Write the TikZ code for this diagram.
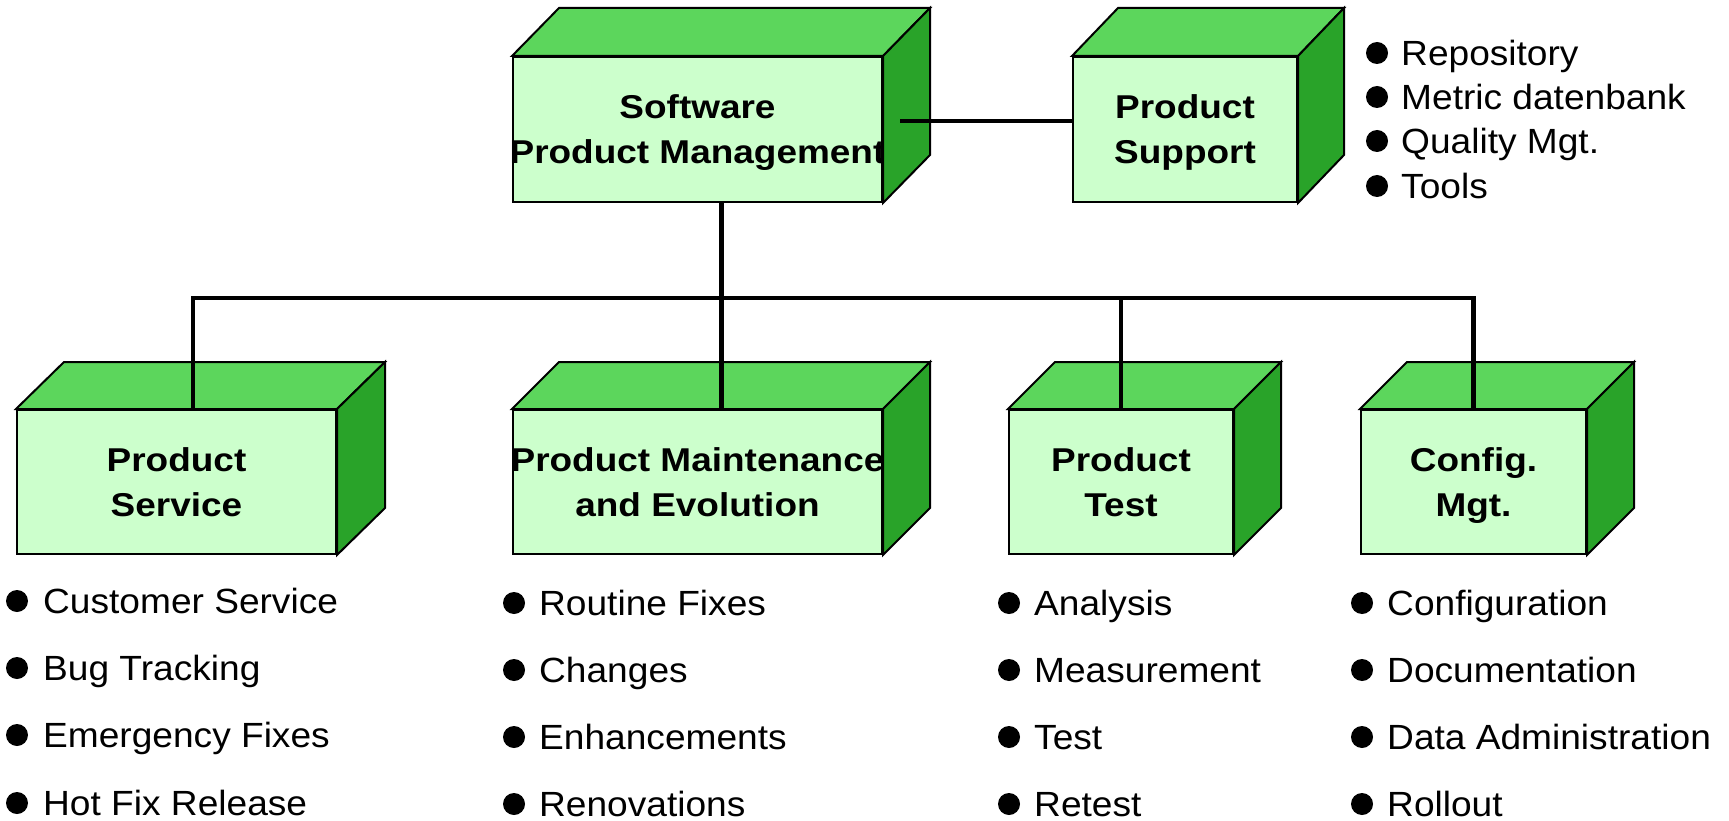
\documentclass[tikz,border=0pt]{standalone}
\usepackage{fontspec}
\setmainfont{Liberation Sans}
\usepackage{graphicx}
\usetikzlibrary{calc}
\definecolor{frontc}{RGB}{204,255,204}
\definecolor{topc}{RGB}{92,214,92}
\definecolor{sidec}{RGB}{41,163,41}
\newcommand\sx[1]{\makebox[0pt]{\raisebox{0pt}[\height][0pt]{\scalebox{1.12}[1]{#1}}}}
\newcommand\lx[1]{\scalebox{1.06}[1]{#1}}
\tikzset{
  face/.style={draw=black, line width=2pt, line join=miter, rectangle, inner sep=0pt,
    fill=frontc, align=center,
    font=\fontsize{33}{45}\selectfont\bfseries},
  topface/.style={draw=black, line width=2pt, fill=topc, line join=miter},
  sideface/.style={draw=black, line width=2pt, fill=sidec, line join=miter},
  conn/.style={draw=black, line width=4.5pt, line join=miter},
  itemtext/.style={anchor=west, inner sep=0pt, text height=25pt, text depth=0pt,
    font=\fontsize{35}{42}\selectfont},
  dot/.style={fill=black}
}
% cube: name, center x, center y, width, height, dx, dy, text
\newcommand\cubebox[8]{%
  \node[face, minimum width=#4pt, minimum height=#5pt] (#1) at (#2,#3) {#8};
  \draw[topface] (#1.north west) -- ++(#6,-#7) -- ($(#1.north east)+(#6,-#7)$) -- (#1.north east) -- cycle;
  \draw[sideface] (#1.north east) -- ++(#6,-#7) -- ($(#1.south east)+(#6,-#7)$) -- (#1.south east) -- cycle;
}
% bullet item: name, bullet x, text x, y, text
\newcommand\bitem[5]{%
  \fill[dot] (#2,#4) circle (11pt);
  \node[itemtext] (#1) at (#3,#4) {\lx{#5}};
}
\begin{document}
\begin{tikzpicture}[x=1pt,y=-1pt]
\useasboundingbox (0,0) rectangle (1729,821);
% top boxes
\cubebox{spm}{697.5}{129.5}{369}{145}{47}{48}{\sx{Software}\\\sx{Product Management}}
\cubebox{pss}{1185}{129.5}{224}{145}{46}{48}{\sx{Product}\\\sx{Support}}
% bottom boxes
\cubebox{psv}{176.5}{482}{319}{144}{48}{47}{\sx{Product}\\\sx{Service}}
\cubebox{pme}{697.5}{482}{369}{144}{47}{47}{\sx{Product Maintenance}\\\sx{and Evolution}}
\cubebox{ptest}{1121}{482}{224}{144}{47}{47}{\sx{Product}\\\sx{Test}}
\cubebox{cfg}{1473.5}{482}{225}{144}{47}{47}{\sx{Config.}\\\sx{Mgt.}}
% connectors
\coordinate (busL) at (193,298);
\coordinate (busR) at (cfg.north |- busL);
\coordinate (spmout) at ($(spm.east)+(17,-8.5)$);
\draw[conn] (spmout) -- (pss.west |- spmout);
\draw[conn] ($(spm.south)+(24,0)$) -- ($(pme.north)+(24,0)$);
\draw[conn] (busL |- psv.north) -- (busL) -- (busR) -- (cfg.north);
\draw[conn] (ptest.north) -- (ptest.north |- busL);
% support items
\bitem{s1}{1377}{1401}{53}{Repository}
\bitem{s2}{1377}{1401}{97}{Metric datenbank}
\bitem{s3}{1377}{1401}{141}{Quality Mgt.}
\bitem{s4}{1377}{1401}{186}{Tools}
% service items
\bitem{a1}{17}{43}{601}{Customer Service}
\bitem{a2}{17}{43}{668}{Bug Tracking}
\bitem{a3}{17}{43}{735}{Emergency Fixes}
\bitem{a4}{17}{43}{803}{Hot Fix Release}
% maintenance items
\bitem{b1}{514}{539}{603}{Routine Fixes}
\bitem{b2}{514}{539}{670}{Changes}
\bitem{b3}{514}{539}{737}{Enhancements}
\bitem{b4}{514}{539}{804}{Renovations}
% test items
\bitem{c1}{1009}{1034}{603}{Analysis}
\bitem{c2}{1009}{1034}{670}{Measurement}
\bitem{c3}{1009}{1034}{737}{Test}
\bitem{c4}{1009}{1034}{804}{Retest}
% config items
\bitem{d1}{1362}{1387}{603}{Configuration}
\bitem{d2}{1362}{1387}{670}{Documentation}
\bitem{d3}{1362}{1387}{737}{Data Administration}
\bitem{d4}{1362}{1387}{804}{Rollout}
\end{tikzpicture}
\end{document}
